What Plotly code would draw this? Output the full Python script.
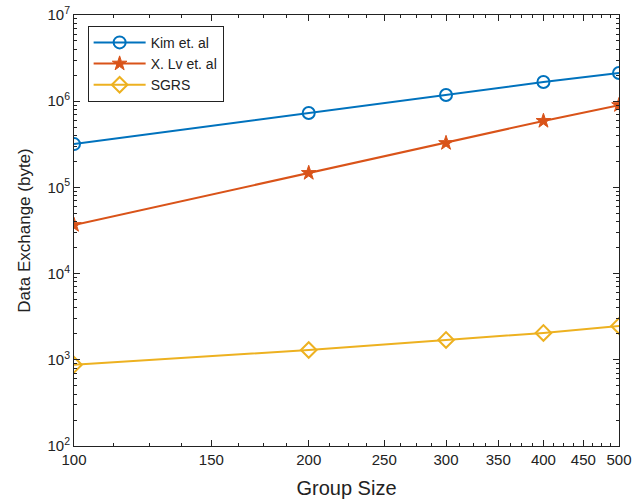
import plotly.graph_objects as go
import numpy as np

group_size = [100, 200, 300, 400, 500]
kim = [3.18e5, 7.3e5, 1.18e6, 1.67e6, 2.12e6]
xlv = [3.66e4, 1.47e5, 3.27e5, 5.9e5, 9.0e5]
sgrs = [875, 1300, 1700, 2050, 2470]

x_ticks = [100, 150, 200, 250, 300, 350, 400, 450, 500]
y_ticks = [1e2, 1e3, 1e4, 1e5, 1e6, 1e7]
y_ticktext = ["10<sup>2</sup>", "10<sup>3</sup>", "10<sup>4</sup>", "10<sup>5</sup>", "10<sup>6</sup>", "10<sup>7</sup>"]

x_minor = [v for v in np.arange(100, 500.01, 12.5) if v not in x_ticks]
y_minor = [m * 10 ** e for e in range(2, 7) for m in range(2, 10)]

fig = go.Figure()
fig.add_trace(go.Scatter(x=group_size, y=kim, name="Kim et. al", mode="lines+markers",
                         line=dict(color="#0072BD", width=2),
                         marker=dict(symbol="circle-open", size=12, line=dict(width=2, color="#0072BD"))))
fig.add_trace(go.Scatter(x=group_size, y=xlv, name="X. Lv et. al", mode="lines+markers",
                         line=dict(color="#D95319", width=2),
                         marker=dict(symbol="star", size=11, color="#D95319", line=dict(width=1, color="#D95319"))))
fig.add_trace(go.Scatter(x=group_size, y=sgrs, name="SGRS", mode="lines+markers",
                         line=dict(color="#EDB120", width=2),
                         marker=dict(symbol="diamond-open", size=12, line=dict(width=2, color="#EDB120"))))

axis_font = dict(family="Liberation Sans, Arial, sans-serif", size=15, color="#222")
fig.update_layout(
    width=640, height=500,
    margin=dict(l=74, r=21, t=15, b=54),
    paper_bgcolor="white", plot_bgcolor="white",
    font=dict(family="Liberation Sans, Arial, sans-serif", size=14, color="#222"),
    showlegend=True,
    legend=dict(x=0.025, y=0.975, xanchor="left", yanchor="top",
                bgcolor="white", bordercolor="#222", borderwidth=1,
                font=dict(size=14), itemwidth=52, tracegroupgap=0),
    xaxis=dict(type="log", range=[2, np.log10(500)], tickvals=x_ticks, ticktext=[str(v) for v in x_ticks],
               ticks="inside", ticklen=6, tickcolor="#222", showline=True, linecolor="#222", linewidth=1,
               mirror="ticks", showgrid=False, zeroline=False, tickfont=axis_font, automargin=False,
               ticklabeloverflow="allow",
               minor=dict(tickvals=x_minor, ticks="inside", ticklen=3, tickcolor="#222", showgrid=False),
               title=dict(text="Group Size", font=dict(size=20), standoff=13)),
    yaxis=dict(type="log", range=[2, 7], tickvals=y_ticks, ticktext=y_ticktext,
               ticks="inside", ticklen=6, tickcolor="#222", showline=True, linecolor="#222", linewidth=1,
               mirror="ticks", showgrid=False, zeroline=False, tickfont=axis_font, automargin=False,
               ticklabeloverflow="allow",
               minor=dict(tickvals=y_minor, ticks="inside", ticklen=3, tickcolor="#222", showgrid=False),
               title=dict(text="Data Exchange (byte)", font=dict(size=17), standoff=12)),
)

fig.write_html("out.html", config={"displayModeBar": False},
               post_script="document.body.style.margin='0';")
